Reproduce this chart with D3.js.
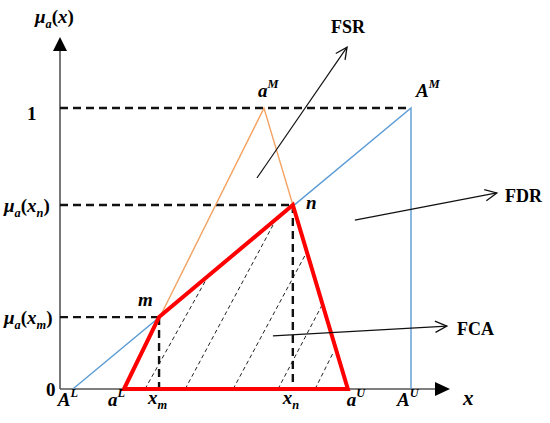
<!DOCTYPE html>
<html><head><meta charset="utf-8">
<script src="https://cdn.jsdelivr.net/npm/d3@7"></script>
<style>body{margin:0;background:#fff} svg{display:block} text{font-family:"Liberation Serif","Times New Roman",serif;}</style>
</head><body>
<script>
// ---- data (abstract units) ----
const keyNames = ["AL", "aL", "xm", "aM", "xn", "aU", "AU"];
const keyX     = [0.33, 1.64, 2.54, 5.23, 5.97, 7.38, 9.0];
const levelNames = ["zero", "muXm", "muXn", "one"];
const levelY     = [0, 0.256, 0.655, 1];
const hatchStartX = [2.18, 3.21, 4.44, 5.59, 6.54];
const hatchEndX   = [3.77, 5.56, 6.33, 6.72, 7.00];
const hatchEndY   = [0.395, 0.609, 0.488, 0.299, 0.128];
const regionNames = ["FSR", "FDR", "FCA"];
const regionFrom  = [[5.05, 0.751], [7.56, 0.601], [5.46, 0.189]];
const regionTo    = [[7.36, 1.217], [11.2, 0.698], [9.92, 0.224]];

const K = Object.fromEntries(keyNames.map((n, i) => [n, keyX[i]]));
const L = Object.fromEntries(levelNames.map((n, i) => [n, levelY[i]]));

const W = 550, H = 423;
const x = d3.scaleLinear().domain([0, 10]).range([60, 450]);
const y = d3.scaleLinear().domain([0, 1.253]).range([389, 37]);
const FONT = "'Liberation Serif', 'Times New Roman', serif";

const svg = d3.select("body").append("svg").attr("width", W).attr("height", H);

const line = d3.line().x(d => x(d[0])).y(d => y(d[1]));

// axes
const axisColor = "#555";
svg.append("line").attr("x1", x(0)).attr("x2", x(10) - 12).attr("y1", y(0)).attr("y2", y(0))
  .attr("stroke", axisColor).attr("stroke-width", 1.6);
svg.append("line").attr("x1", x(0)).attr("x2", x(0)).attr("y1", y(0)).attr("y2", y(1.253) + 12)
  .attr("stroke", axisColor).attr("stroke-width", 1.6);
svg.append("path").attr("d", `M${x(10)},${y(0)} L${x(10)-15},${y(0)-7} L${x(10)-15},${y(0)+7} Z`).attr("fill", "#000");
svg.append("path").attr("d", `M${x(0)},${y(1.253)} L${x(0)-7},${y(1.253)+14} L${x(0)+7},${y(1.253)+14} Z`).attr("fill", "#000");

// hatch lines
svg.append("g").selectAll("line").data(hatchStartX).join("line")
  .attr("x1", d => x(d)).attr("y1", y(0))
  .attr("x2", (d, i) => x(hatchEndX[i])).attr("y2", (d, i) => y(hatchEndY[i]))
  .attr("stroke", "#222").attr("stroke-width", 1).attr("stroke-dasharray", "4,3");

// bold dashed guides
const guide = (pts) => svg.append("path").attr("d", line(pts)).attr("fill", "none")
  .attr("stroke", "#111").attr("stroke-width", 2.4).attr("stroke-dasharray", "8,5");
guide([[0, L.one], [K.AU, L.one]]);
guide([[0, L.muXn], [K.xn, L.muXn]]);
guide([[0, L.muXm], [K.xm, L.muXm]]);
guide([[K.xm, L.muXm], [K.xm, 0]]);
guide([[K.xn, L.muXn], [K.xn, 0]]);

// blue FDR boundary
svg.append("path").attr("d", line([[K.AL, 0], [K.AU, L.one], [K.AU, 0]]))
  .attr("fill", "none").attr("stroke", "#5B9BD5").attr("stroke-width", 1.4);
// orange FSR triangle
svg.append("path").attr("d", line([[K.aL, 0], [K.aM, L.one], [K.aU, 0]]))
  .attr("fill", "none").attr("stroke", "#F4A261").attr("stroke-width", 1.4);
// red FCA polygon
svg.append("path").attr("d", line([[K.aL, 0], [K.xm, L.muXm], [K.xn, L.muXn], [K.aU, 0]]) + "Z")
  .attr("fill", "none").attr("stroke", "#FF0000").attr("stroke-width", 4).attr("stroke-linejoin", "miter");

// region arrows
regionNames.forEach((name, i) => {
  const [x1, y1] = [x(regionFrom[i][0]), y(regionFrom[i][1])];
  const [x2, y2] = [x(regionTo[i][0]), y(regionTo[i][1])];
  svg.append("line").attr("x1", x1).attr("y1", y1).attr("x2", x2).attr("y2", y2)
    .attr("stroke", "#111").attr("stroke-width", 1.2);
  const a = Math.atan2(y2 - y1, x2 - x1), s = 13, sp = 0.45;
  svg.append("path").attr("d",
    `M${x2 - s*Math.cos(a - sp)},${y2 - s*Math.sin(a - sp)} L${x2},${y2} L${x2 - s*Math.cos(a + sp)},${y2 - s*Math.sin(a + sp)}`)
    .attr("fill", "none").attr("stroke", "#111").attr("stroke-width", 1.3);
});
const regionLabelPos = {FSR: [331, 33], FDR: [505, 202], FCA: [457, 335]};
regionNames.forEach(n => svg.append("text").attr("x", regionLabelPos[n][0]).attr("y", regionLabelPos[n][1])
  .attr("font-family", FONT).attr("font-size", 18).attr("font-weight", "bold").text(n));

// math label helper
function mlabel(px, py, parts, anchor, size) {
  size = size || 19;
  const t = svg.append("text").attr("x", px).attr("y", py).attr("text-anchor", anchor || "start")
    .attr("font-family", FONT).attr("font-size", size).attr("font-weight", "bold");
  parts.forEach(p => {
    const ts = t.append("tspan").text(p.t);
    if (p.i) ts.attr("font-style", "italic");
    if (p.sub) ts.attr("font-size", size * 0.65).attr("dy", 5);
    if (p.sup) ts.attr("font-size", size * 0.65).attr("dy", -9);
    if (p.back) ts.attr("dy", p.back);
  });
  return t;
}

// y-axis labels
mlabel(35, 23, [{t: "μ", i: 1}, {t: "a", i: 1, sub: 1}, {t: "(", back: -5}, {t: "x", i: 1}, {t: ")"}]);
mlabel(27, y(L.one) + 12, [{t: "1"}]);
mlabel(4, y(L.muXn) + 7, [{t: "μ", i: 1}, {t: "a", i: 1, sub: 1}, {t: "(", back: -5}, {t: "x", i: 1}, {t: "n", i: 1, sub: 1}, {t: ")", back: -5}]);
mlabel(4, y(L.muXm) + 7, [{t: "μ", i: 1}, {t: "a", i: 1, sub: 1}, {t: "(", back: -5}, {t: "x", i: 1}, {t: "m", i: 1, sub: 1}, {t: ")", back: -5}]);
mlabel(46, y(0) + 7, [{t: "0"}]);

// x-axis labels
const bx = y(0) + 17;
mlabel(x(K.AL) - 15, bx, [{t: "A", i: 1}, {t: "L", i: 1, sup: 1}]);
mlabel(x(K.aL) - 16, bx, [{t: "a", i: 1}, {t: "L", i: 1, sup: 1}]);
mlabel(x(K.xm) - 11, bx - 2, [{t: "x", i: 1}, {t: "m", i: 1, sub: 1}]);
mlabel(x(K.xn) - 10, bx - 2, [{t: "x", i: 1}, {t: "n", i: 1, sub: 1}]);
mlabel(x(K.aU) - 1, bx, [{t: "a", i: 1}, {t: "U", i: 1, sup: 1}]);
mlabel(x(K.AU) - 14, bx, [{t: "A", i: 1}, {t: "U", i: 1, sup: 1}]);
mlabel(463, bx - 1, [{t: "x", i: 1}], "start", 21);

// point labels
mlabel(138, y(L.muXm) - 11, [{t: "m", i: 1}]);
mlabel(306, y(L.muXn) + 4, [{t: "n", i: 1}]);
mlabel(x(K.aM) - 6, y(L.one) - 11, [{t: "a", i: 1}, {t: "M", i: 1, sup: 1}]);
mlabel(x(K.AU) + 5, y(L.one) - 11, [{t: "A", i: 1}, {t: "M", i: 1, sup: 1}]);
</script>
</body></html>
